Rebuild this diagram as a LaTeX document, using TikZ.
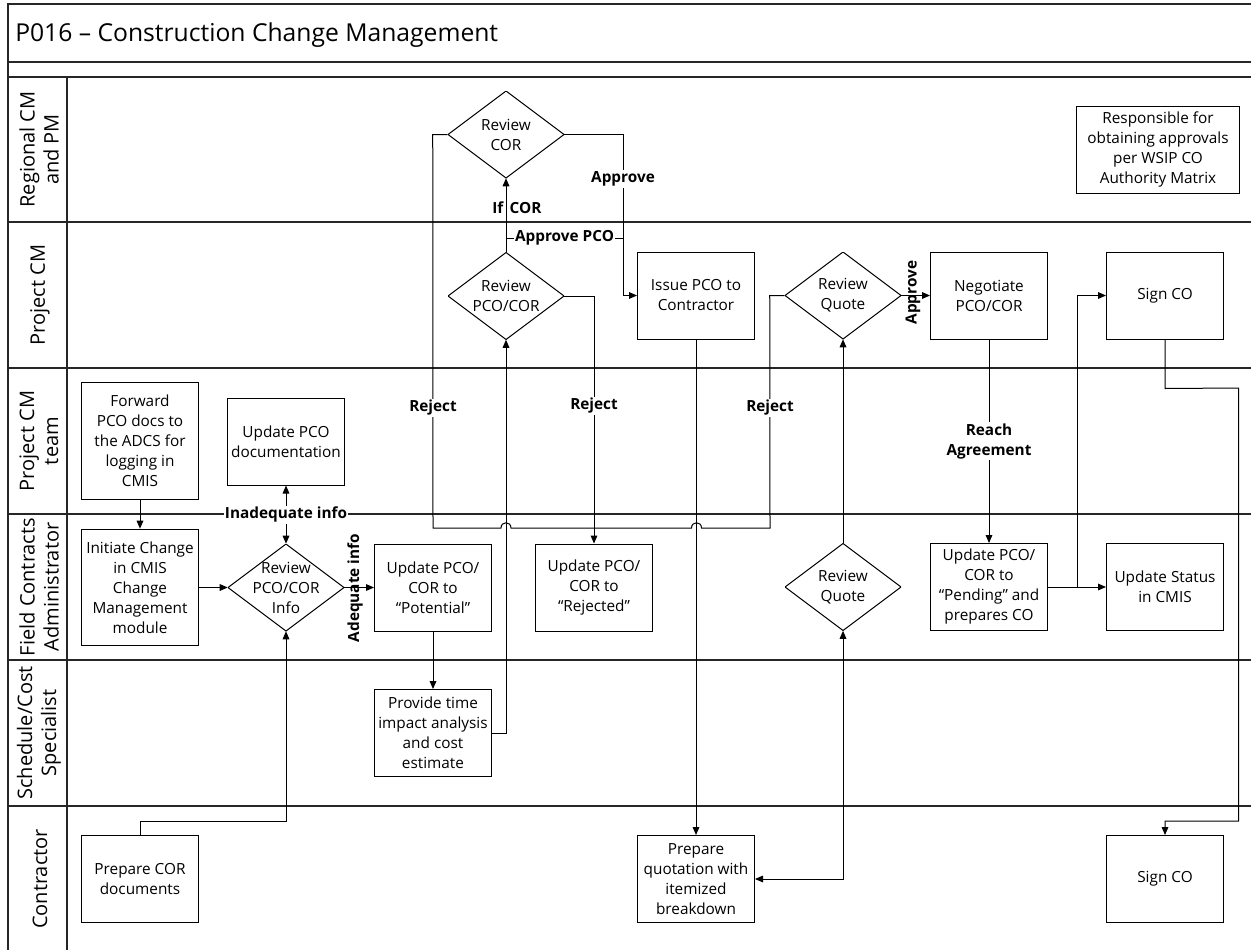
\documentclass[tikz,border=0pt]{standalone}
\usepackage{fontspec}
\setmainfont{Open Sans}
\usetikzlibrary{arrows.meta}
\begin{document}
\begin{tikzpicture}[x=0.75pt,y=-0.75pt,
  laneline/.style={line width=0.9pt, draw=black!85},
  nodefont/.style={font=\fontsize{11.5}{15}\selectfont},
  box/.style={draw, line width=0.75pt, minimum width=87.75pt, minimum height=65.25pt, align=center, inner sep=1pt, nodefont},
  tallbox/.style={box, minimum height=87.5pt},
  dia/.style={rectangle, minimum width=87pt, minimum height=65.25pt, inner sep=0pt, align=center, nodefont,
    path picture={\draw[line width=0.75pt] (path picture bounding box.north) -- (path picture bounding box.east) -- (path picture bounding box.south) -- (path picture bounding box.west) -- cycle;}},
  conn/.style={line width=0.75pt},
  arr/.style={conn, -{Triangle[length=6pt,width=5pt]}},
  dblarr/.style={conn, {Triangle[length=6pt,width=5pt]}-{Triangle[length=6pt,width=5pt]}},
  lbl/.style={font=\bfseries\fontsize{11.5}{15}\selectfont, fill=white, inner sep=1pt, align=center},
  lbltxt/.style={font=\bfseries\fontsize{11.5}{15}\selectfont, inner sep=0pt, align=center},
  lanelbl/.style={rotate=90, align=center, font=\fontsize{15}{18}\selectfont}
]
\useasboundingbox (0,0) rectangle (1251,949);
% frame and lanes
\draw[laneline] (8,950) -- (8,4) -- (1252,4);
\draw[laneline] (8,62) -- (1252,62);
\draw[laneline] (8,77) -- (1252,77);
\foreach \yy in {222,368,514,660,806} \draw[laneline] (8,\yy) -- (1252,\yy);
\draw[laneline] (67,77) -- (67,950);
\node[anchor=base west, inner sep=0pt, font=\fontsize{18.5}{22}\selectfont] (title) at (15,42) {P016 – Construction Change Management};
% lane labels
\node[lanelbl] (l1) at (39,149.5) {Regional CM\\and PM};
\node[lanelbl] (l2) at (40,295) {Project CM};
\node[lanelbl] (l3) at (39,441) {Project CM\\team};
\node[lanelbl] (l4) at (39,587) {Field Contracts\\Administrator};
\node[lanelbl] (l5) at (39,733) {Schedule/Cost\\Specialist};
\node[lanelbl] (l6) at (40,879) {Contractor};
% nodes
\node[dia] (rcor) at (506,134.5) {Review\\COR};
\node[box, minimum width=122pt] (resp) at (1158,149.5) {Responsible for\\obtaining approvals\\per WSIP CO\\Authority Matrix};
\node[dia] (rpco) at (506,296) {Review\\PCO/COR};
\node[box] (issue) at (696,295.5) {Issue PCO to\\Contractor};
\node[dia] (rq1) at (843,295.5) {Review\\Quote};
\node[box] (nego) at (989,295.5) {Negotiate\\PCO/COR};
\node[box] (sign1) at (1165,295.5) {Sign CO};
\node[tallbox] (fwd) at (140,441) {Forward\\PCO docs to\\the ADCS for\\logging in\\CMIS};
\node[box] (upd) at (286,441.5) {Update PCO\\documentation};
\node[tallbox] (init) at (140,587.5) {Initiate Change\\in CMIS\\Change\\Management\\module};
\node[dia] (rinfo) at (286,587.5) {Review\\PCO/COR\\Info};
\node[box] (pot) at (433,587.5) {Update PCO/\\COR to\\“Potential”};
\node[box] (rej) at (594,587.5) {Update PCO/\\COR to\\“Rejected”};
\node[dia] (rq2) at (843,587) {Review\\Quote};
\node[box] (pend) at (989,587) {Update PCO/\\COR to\\“Pending” and\\prepares CO};
\node[box] (stat) at (1165,587) {Update Status\\in CMIS};
\node[box] (sched) at (433,733) {Provide time\\impact analysis\\and cost\\estimate};
\node[box] (prepcor) at (140,879) {Prepare COR\\documents};
\node[box] (quot) at (696,879) {Prepare\\quotation with\\itemized\\breakdown};
\node[box] (sign2) at (1165,879) {Sign CO};
% helper coordinates
\coordinate (apj) at (506,238);
\coordinate (apk) at (623,238);
\coordinate (rj) at (594,528);
% connectors
\draw[arr] (fwd.south) -- (init.north);
\draw[arr] (init.east) -- (rinfo.west);
\draw[dblarr] (rinfo.north) -- node[lbl] (inad) {Inadequate info} (upd.south);
\draw[arr] (rinfo.east) -- (pot.west);
\node[lbltxt, rotate=90] (adeq) at (355,588) {Adequate info};
\draw[arr] (pot.south) -- (sched.north);
\draw[arr] (sched.east) -| (rpco.south);
\draw[arr] (prepcor.north) -- ++(0,-14) -| (rinfo.south);
\draw[arr] (rpco.north) -- (rcor.south);
\node[lbltxt, anchor=base west] (ifcor) at (492,213) {If\hspace{0.42em}COR};
\draw[conn] (apj) -- node[lbl] (appco) {Approve PCO} (apk);
\draw[arr] (rcor.east) -- (rcor.east -| apk) -- (apk |- issue.west) -- (issue.west);
\node[lbl] (appr1) at (623,179) {Approve};
\draw[arr] (rpco.east) -- (rpco.east -| rj) -- (rej.north);
\node[lbl] (rej2) at (594,406) {Reject};
\draw[conn] (rcor.west) -- ++(-15,0) -- (433,528) -- (501,528) .. controls (501,521) and (511,521) .. (511,528) -- (rj);
\node[lbl] (rej1) at (433,408) {Reject};
\draw[conn] (rq1.west) -- ++(-15,0) -- (770,528) -- (701.5,528) .. controls (701.5,521) and (691.5,521) .. (691.5,528) -- (rj);
\node[lbl] (rej3) at (770,408) {Reject};
\draw[arr] (issue.south) -- (quot.north);
\draw[dblarr] (quot.east) -| (rq2.south);
\draw[arr] (rq2.north) -- (rq1.south);
\draw[arr] (rq1.east) -- (nego.west);
\node[lbltxt, rotate=90] (appr2) at (913,292.5) {Approve};
\draw[arr] (nego.south) -- node[lbl] (reach) {Reach\\Agreement} (pend.north);
\draw[arr] (pend.east) -- (stat.west);
\draw[arr] (1077,587) |- (sign1.west);
\draw[arr] (sign1.south) -- ++(0,49) -- (1238.5,388) -- (1238.5,821) -- (1165,821) -- (sign2.north);
\end{tikzpicture}
\end{document}
